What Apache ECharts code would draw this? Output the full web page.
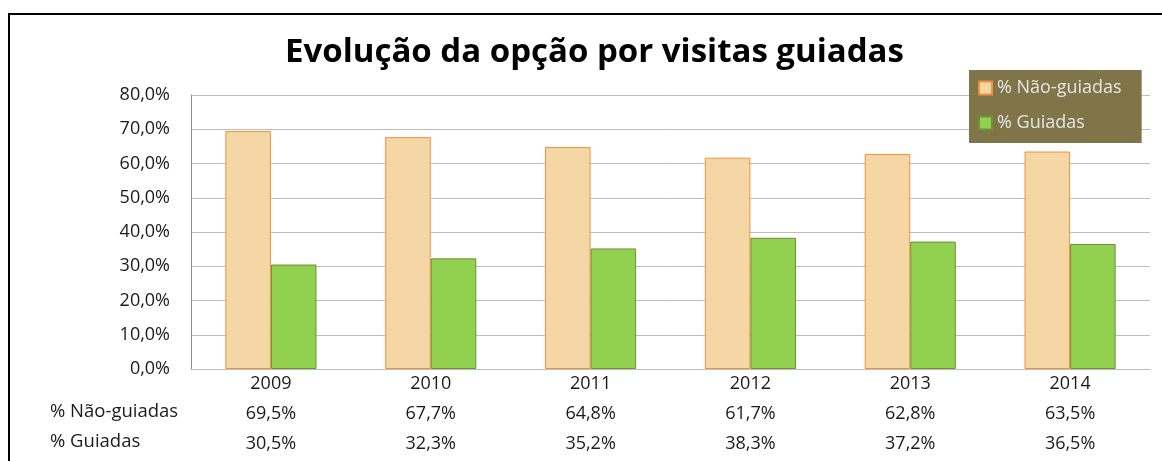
<!DOCTYPE html>
<html>
<head>
<meta charset="utf-8">
<script src="https://cdn.jsdelivr.net/npm/echarts@6/dist/echarts.min.js"></script>
<style>
html,body{margin:0;padding:0;background:#fff;}
#frame{position:absolute;left:8px;top:13px;width:1170px;height:470px;border:2px solid #000;box-sizing:border-box;}
#chart{position:absolute;left:0;top:0;width:1162px;height:461px;}
</style>
</head>
<body>
<div id="frame"></div>
<div id="chart"></div>
<script>
var titleText = 'Evolução da opção por visitas guiadas';
var categories = ['2009', '2010', '2011', '2012', '2013', '2014'];
var seriesNames = ['% Não-guiadas', '% Guiadas'];
var naoGuiadas = [69.5, 67.7, 64.8, 61.7, 62.8, 63.5];
var guiadas = [30.5, 32.3, 35.2, 38.3, 37.2, 36.5];
var yTicks = [0, 10, 20, 30, 40, 50, 60, 70, 80];

function pct(v) { return v.toFixed(1).replace('.', ',') + '%'; }

var FONT = 'Open Sans';
var FS = 18;
var chart = echarts.init(document.getElementById('chart'), null, {renderer: 'canvas'});
chart.setOption({
  animation: false,
  backgroundColor: 'transparent',
  textStyle: {fontFamily: FONT},
  title: {
    text: titleText,
    left: 280,
    top: 31,
    textStyle: {fontFamily: FONT, fontSize: 33, fontWeight: 'bold', color: '#000'}
  },
  legend: {
    data: seriesNames,
    orient: 'vertical',
    left: 969,
    top: 70,
    padding: [9, 20, 11, 9],
    itemGap: 17,
    itemWidth: 13,
    itemHeight: 13,
    icon: 'rect',
    backgroundColor: '#7f7548',
    textStyle: {color: '#e6e6e6', fontSize: FS, fontFamily: FONT}
  },
  grid: {left: 191, top: 95, right: 12, bottom: 92, containLabel: false},
  xAxis: {
    type: 'category',
    data: categories,
    axisLine: {show: true, lineStyle: {color: '#bdbdbd', width: 1}},
    axisTick: {show: false},
    axisLabel: {
      margin: 0,
      color: '#1a1a1a',
      fontSize: FS,
      fontFamily: FONT,
      lineHeight: 30,
      formatter: function (v, i) {
        return v + '\n' + pct(naoGuiadas[i]) + '\n' + pct(guiadas[i]);
      }
    }
  },
  yAxis: {
    type: 'value',
    min: yTicks[0],
    max: yTicks[yTicks.length - 1],
    interval: 10,
    axisLine: {show: true, lineStyle: {color: '#8c8c8c', width: 1}},
    axisTick: {show: false},
    splitLine: {lineStyle: {color: '#bdbdbd', width: 1}},
    axisLabel: {
      margin: 21,
      color: '#1a1a1a',
      fontSize: FS,
      fontFamily: FONT,
      formatter: function (v) { return pct(v); }
    }
  },
  series: [
    {
      name: seriesNames[0],
      type: 'bar',
      data: naoGuiadas,
      barGap: '0%',
      barCategoryGap: '43%',
      itemStyle: {color: '#f5d7a5', borderColor: '#f0913e', borderWidth: 1}
    },
    {
      name: seriesNames[1],
      type: 'bar',
      data: guiadas,
      itemStyle: {color: '#92d050', borderColor: '#6e8f3c', borderWidth: 1}
    }
  ],
  graphic: [
    {type: 'text', left: 50, top: 402, style: {text: seriesNames[0], font: '18.5px "Open Sans"', fill: '#1a1a1a'}},
    {type: 'text', left: 50, top: 432, style: {text: seriesNames[1], font: '18.5px "Open Sans"', fill: '#1a1a1a'}}
  ]
});
</script>
</body>
</html>
